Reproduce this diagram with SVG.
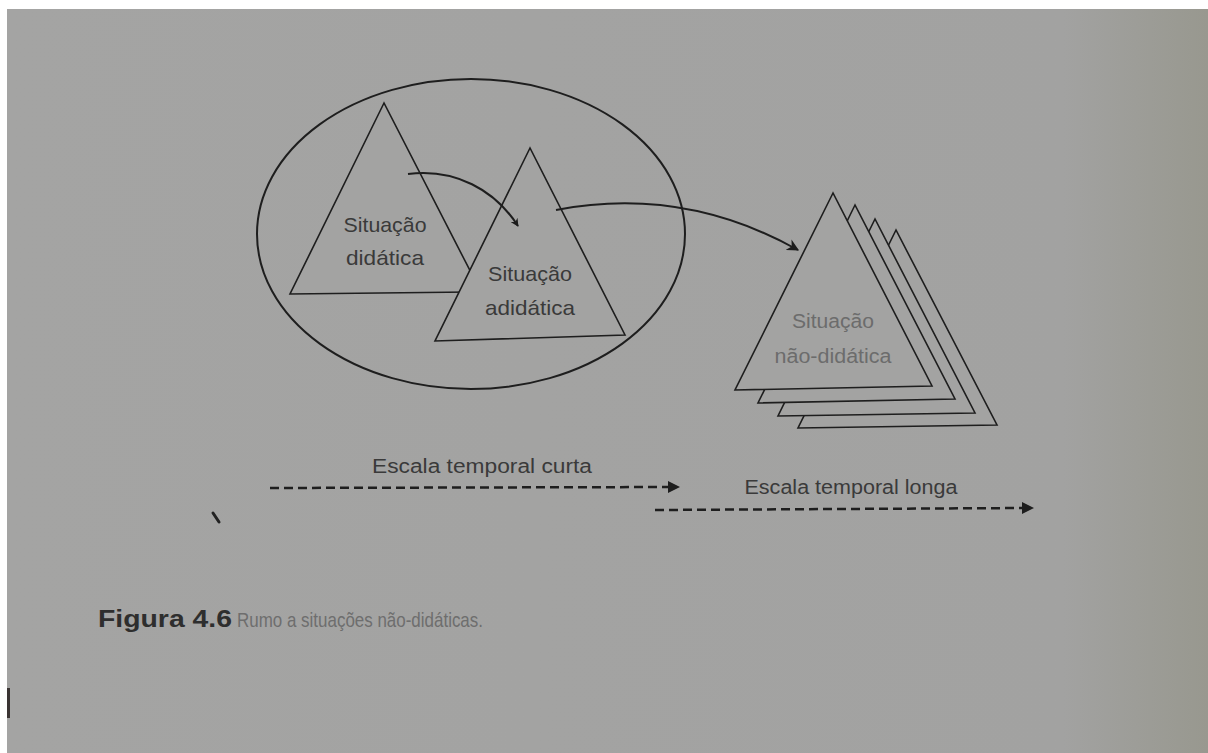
<svg xmlns="http://www.w3.org/2000/svg" width="1208" height="753" viewBox="0 0 1208 753">
<defs>
<linearGradient id="bg" x1="0" y1="0" x2="1" y2="0">
<stop offset="0" stop-color="#a4a4a3"/>
<stop offset="0.88" stop-color="#a2a2a1"/>
<stop offset="1" stop-color="#98988f"/>
</linearGradient>
<marker id="ah" viewBox="0 0 10 10" refX="9" refY="5" markerWidth="8" markerHeight="8" orient="auto" markerUnits="userSpaceOnUse">
<path d="M0,0 L10,5 L0,10 L3,5 z" fill="#1c1c1c"/>
</marker>
<marker id="ah2" viewBox="0 0 10 10" refX="9" refY="5" markerWidth="12" markerHeight="12" orient="auto" markerUnits="userSpaceOnUse">
<path d="M0,0 L10,5 L0,10 L3,5 z" fill="#1c1c1c"/>
</marker>
</defs>
<style>
.ln{fill:none;stroke:#1e1e1e;stroke-width:2}
.tri{fill:#a3a3a2;stroke:#1e1e1e;stroke-width:1.6}
.lbl{font-family:"Liberation Sans",Arial,sans-serif;font-size:21px;fill:#3a3a3a;text-anchor:middle}
.lbl2{font-family:"Liberation Sans",Arial,sans-serif;font-size:20px;fill:#6c6c6c;text-anchor:middle}
.dash{fill:none;stroke:#1e1e1e;stroke-width:2.5;stroke-dasharray:9 5}
.sc{font-family:"Liberation Sans",Arial,sans-serif;font-size:20px;fill:#3a3a3a;text-anchor:middle}
</style>
<rect x="0" y="0" width="1208" height="753" fill="#ffffff"/>
<rect x="7" y="9" width="1201" height="744" fill="url(#bg)"/>

<g id="circle">
<ellipse cx="471" cy="234" rx="214" ry="155" class="ln" stroke-width="1.8"/>
</g>

<g id="node-didatica">
<polygon class="tri" points="384,103 290,294 470,292 481,292"/>
<text class="lbl" x="385" y="232" textLength="83" lengthAdjust="spacingAndGlyphs">Situação</text>
<text class="lbl" x="385" y="265" textLength="78" lengthAdjust="spacingAndGlyphs">didática</text>
</g>

<g id="node-adidatica">
<polygon class="tri" points="530,148 435,341 625,335"/>
<text class="lbl" x="530" y="281" textLength="84" lengthAdjust="spacingAndGlyphs">Situação</text>
<text class="lbl" x="530" y="315" textLength="90" lengthAdjust="spacingAndGlyphs">adidática</text>
</g>

<g id="node-naodidatica">
<polygon class="tri" points="896,230 798,428 997,425"/>
<polygon class="tri" points="875,219 778,416 975,413"/>
<polygon class="tri" points="855,205 758,403 955,399"/>
<polygon class="tri" points="833,193 735,390 932,386"/>
<text class="lbl2" x="833" y="328" textLength="82" lengthAdjust="spacingAndGlyphs">Situação</text>
<text class="lbl2" x="833" y="363" textLength="117" lengthAdjust="spacingAndGlyphs">não-didática</text>
</g>

<g id="connectors">
<path class="ln" d="M408,174 C455,168 495,190 518,226" marker-end="url(#ah)"/>
<path class="ln" d="M556,210 C650,192 730,212 798,250" marker-end="url(#ah2)"/>
<line class="dash" x1="270" y1="488" x2="672" y2="487"/>
<path d="M668,481 L680,487 L668,493 z" fill="#1e1e1e"/>
<line class="dash" x1="655" y1="510" x2="1026" y2="508"/>
<path d="M1022,502 L1034,508 L1022,514 z" fill="#1e1e1e"/>
</g>

<g id="scales">
<text class="sc" x="482" y="473" textLength="220" lengthAdjust="spacingAndGlyphs">Escala temporal curta</text>
<text class="sc" x="851" y="494" fill="#4a4a4a" textLength="213" lengthAdjust="spacingAndGlyphs">Escala temporal longa</text>
</g>

<line x1="213" y1="513" x2="219" y2="522" stroke="#222" stroke-width="3" stroke-linecap="round"/>
<rect x="7" y="688" width="3" height="30" fill="#3a3433"/>

<g id="caption">
<text x="98" y="627" font-family="'Liberation Sans',Arial,sans-serif" font-size="24" font-weight="bold" fill="#2e2e2e" textLength="134" lengthAdjust="spacingAndGlyphs">Figura 4.6</text>
<text x="237" y="627" font-family="'Liberation Sans',Arial,sans-serif" font-size="21" fill="#6e6e6e" textLength="246" lengthAdjust="spacingAndGlyphs">Rumo a situações não-didáticas.</text>
</g>
</svg>
